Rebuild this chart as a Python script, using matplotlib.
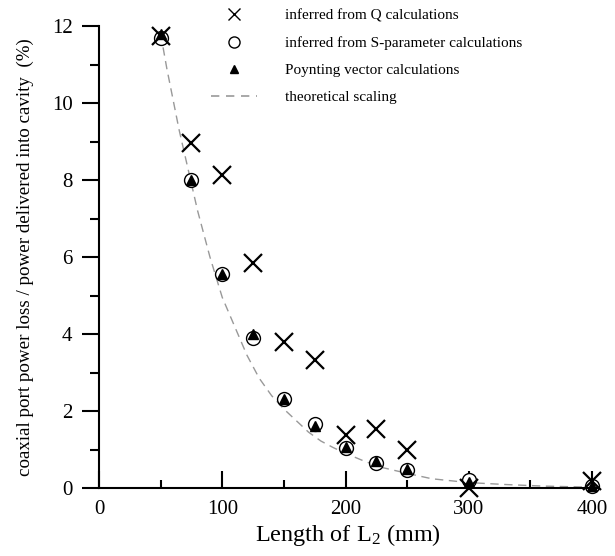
import numpy as np
import matplotlib
matplotlib.use("Agg")
import matplotlib.pyplot as plt
from matplotlib.lines import Line2D
from matplotlib.ticker import MultipleLocator

plt.rcParams['font.family'] = ['Liberation Serif', 'DejaVu Serif']
plt.rcParams['mathtext.fontset'] = 'custom'
plt.rcParams['mathtext.rm'] = 'Liberation Serif'
plt.rcParams['mathtext.default'] = 'regular'

# lengths of L2 (mm)
L2 = [50, 75, 100, 125, 150, 175, 200, 225, 250, 300, 400]
# inferred from Q calculations
q_calc = [11.75, 8.97, 8.13, 5.84, 3.78, 3.33, 1.37, 1.53, 1.0, 0.0, 0.17]
# inferred from S-parameter calculations
s_calc = [11.7, 8.0, 5.55, 3.9, 2.3, 1.66, 1.05, 0.66, 0.47, 0.2, 0.06]
# Poynting vector calculations
poynting = [11.8, 8.0, 5.57, 4.0, 2.32, 1.62, 1.07, 0.7, 0.5, 0.15, 0.06]

# theoretical scaling
x_th = [50, 55, 60, 65, 70, 75, 80, 90, 100, 110, 120, 130, 140, 150, 160,
        170, 180, 190, 200, 215, 230, 250, 270, 300, 330, 360, 400]
y_th = [11.8, 10.9, 10.1, 9.3, 8.6, 7.9, 7.2, 6.0, 4.95, 4.2, 3.45, 2.85, 2.4,
        2.05, 1.75, 1.45, 1.22, 1.05, 0.90, 0.70, 0.53, 0.38, 0.24, 0.14,
        0.09, 0.05, 0.02]

fig = plt.figure(figsize=(6.15, 5.56), dpi=100)
ax = fig.add_axes([99/615, 68/556, 498/615, 462/556])

ax.plot(x_th, y_th, color="#999999", lw=1, dashes=(6, 4), zorder=1)
ax.plot(L2, s_calc, "o", ms=10, mfc="white", mec="black", mew=1.0,
        clip_on=False, zorder=2)
ax.plot(L2, poynting, "^", ms=7, color="black", clip_on=False, zorder=3)
ax.plot(L2, q_calc, "x", ms=13, mew=1.6, color="black", clip_on=False,
        zorder=4)

ax.set_xlim(0, 404)
ax.set_ylim(0, 12)
ax.xaxis.set_major_locator(MultipleLocator(100))
ax.xaxis.set_minor_locator(MultipleLocator(50))
ax.yaxis.set_major_locator(MultipleLocator(2))
ax.yaxis.set_minor_locator(MultipleLocator(1))

for s in ["top", "right"]:
    ax.spines[s].set_visible(False)
for s in ["left", "bottom"]:
    ax.spines[s].set_linewidth(1.5)

ax.tick_params(axis="x", which="major", direction="in", length=12, width=1.5,
               pad=9, labelsize=15)
ax.tick_params(axis="x", which="minor", direction="in", length=6, width=1.5)
ax.tick_params(axis="y", which="major", direction="out", length=12, width=1.5,
               pad=7, labelsize=15)
ax.tick_params(axis="y", which="minor", direction="out", length=6.5, width=1.5)

ax.set_xlabel(r"Length of L$_2$ (mm)", fontsize=17.5, labelpad=2)
ax.set_ylabel("coaxial port power loss / power delivered into cavity  (%)",
              fontsize=13.7, labelpad=13)

handles = [
    Line2D([], [], ls="none", marker="x", ms=8, mew=1.0, color="black"),
    Line2D([], [], ls="none", marker="o", ms=8, mfc="white", mec="black",
           mew=1.0),
    Line2D([], [], ls="none", marker="^", ms=6, color="black"),
    Line2D([], [], color="#999999", lw=1.2, dashes=(5, 4)),
]
labels = ["inferred from Q calculations",
          "inferred from S-parameter calculations",
          "Poynting vector calculations",
          "theoretical scaling"]
fig.legend(handles, labels, loc="upper left",
           bbox_to_anchor=(208/615, 1 - 6/556),
           frameon=False, fontsize=11, handlelength=3.0, handletextpad=1.85,
           labelspacing=0.88, borderpad=0.2, borderaxespad=0)

fig.savefig("out.png", dpi=100)
